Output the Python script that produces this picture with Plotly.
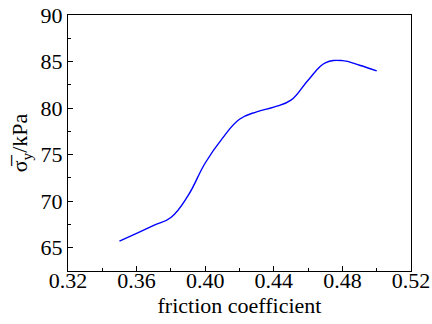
import plotly.graph_objects as go

friction = [0.35, 0.36, 0.37, 0.38, 0.39, 0.40, 0.41, 0.42, 0.43, 0.44, 0.45, 0.46, 0.47, 0.48, 0.49, 0.50]
sigma_y = [65.7, 66.55, 67.4, 68.25, 70.6, 74.1, 76.75, 78.8, 79.6, 80.1, 80.85, 83.0, 84.85, 85.1, 84.6, 84.0]

x_ticks = [0.32, 0.36, 0.40, 0.44, 0.48, 0.52]
x_ticktext = ["0.32", "0.36", "0.40", "0.44", "0.48", "0.52"]
y_ticks = [65, 70, 75, 80, 85, 90]

FONT = "Liberation Serif"

fig = go.Figure()
fig.add_trace(go.Scatter(
    x=friction, y=sigma_y, mode="lines",
    line=dict(color="#0000ff", width=1.4, shape="spline", smoothing=1.2),
    showlegend=False, hoverinfo="skip",
))

axis_common = dict(
    showline=True, linecolor="black", linewidth=1, mirror=True,
    ticks="inside", ticklen=5, tickwidth=1, tickcolor="black",
    showgrid=False, zeroline=False, automargin=False,
    tickfont=dict(family=FONT, size=22, color="black"),
)

fig.update_xaxes(
    range=[0.32, 0.52], tickvals=x_ticks, ticktext=x_ticktext,
    ticklabelstandoff=-10,
    minor=dict(ticks="inside", ticklen=3, dtick=0.02, tick0=0.32, tickcolor="black", showgrid=False),
    title=dict(text="friction coefficient", font=dict(family=FONT, size=22, color="black"), standoff=4),
    **axis_common,
)
fig.update_yaxes(
    range=[62.5, 90], tickvals=y_ticks,
    minor=dict(ticks="inside", ticklen=3, dtick=2.5, tick0=62.5, tickcolor="black", showgrid=False),
    title=dict(text="σ\u0305<sub>y</sub>/kPa", font=dict(family=FONT, size=22, color="black"), standoff=6),
    **axis_common,
)

fig.update_layout(
    width=432, height=324,
    margin=dict(l=68, r=21, t=15, b=53),
    paper_bgcolor="white", plot_bgcolor="white",
    font=dict(family=FONT, color="black"),
)

fig.write_html("out.html")
